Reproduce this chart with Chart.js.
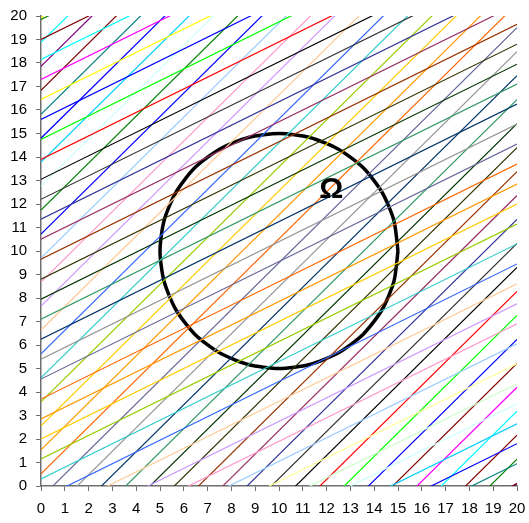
<!DOCTYPE html>
<html>
<head>
<meta charset="utf-8">
<script src="https://cdn.jsdelivr.net/npm/chart.js@4/dist/chart.umd.min.js"></script>
<style>
  html, body { margin: 0; padding: 0; background: #fff; }
  #wrap { width: 529px; height: 523px; }
</style>
</head>
<body>
<div id="wrap"><canvas id="chart"></canvas></div>
<script>
// Shallow family: y = shallowSlope * x + intercept
const shallowSlope = 0.5;
const shallowIntercepts = [-9.9, -9.05, -8.2, -7.35, -6.5, -5.65, -4.8, -3.95, -3.1, -2.25, -1.4, -0.55,
    0.3, 1.15, 2.0, 2.85, 3.7, 4.55, 5.4, 6.25, 7.1, 7.95, 8.8, 9.65, 10.5, 11.35, 12.2,
    13.05, 13.9, 14.75, 15.6, 16.45, 17.3, 18.15, 19.0, 19.85];
const shallowColors = ['#800000', '#008080', '#0000FF', '#00CCFF', '#CCFFFF', '#CCFFCC', '#FFFF99', '#99CCFF',
    '#FF99CC', '#CC99FF', '#FFCC99', '#3366FF', '#33CCCC', '#99CC00', '#FFCC00', '#FF9900', '#FF6600',
    '#666699', '#969696', '#003366', '#339966', '#003300', '#333300', '#993300', '#993366', '#333399',
    '#333333', '#000000', '#FF0000', '#00FF00', '#0000FF', '#FFFF00', '#FF00FF', '#00FFFF', '#800000', '#008000'];

// Steep family: y = steepSlope * x + intercept
const steepSlope = 1.0;
const steepIntercepts = [19.9, 18.88, 17.86, 16.84, 15.82, 14.8, 13.78, 12.76, 11.74, 10.72, 9.7, 8.68,
    7.66, 6.64, 5.62, 4.6, 3.58, 2.56, 1.54, 0.52, -0.5, -1.52, -2.54, -3.56, -4.58, -5.6, -6.62,
    -7.64, -8.66, -9.68, -10.7, -11.72, -12.74, -13.76, -14.78, -15.8, -16.82, -17.84, -18.86, -19.88];
const steepColors = ['#FFFF00', '#00FFFF', '#800080', '#800000', '#008080', '#0000FF', '#00CCFF', '#CCFFFF',
    '#008000', '#0000FF', '#99CCFF', '#FF99CC', '#CC99FF', '#FFCC99', '#3366FF', '#33CCCC', '#99CC00',
    '#FFCC00', '#FF9900', '#FF6600', '#666699', '#969696', '#003366', '#339966', '#003300', '#333300',
    '#993300', '#993366', '#333399', '#333333', '#000000', '#FF0000', '#00FF00', '#0000FF', '#800000',
    '#FF00FF', '#00FFFF', '#800000', '#008000', '#000080'];

// Boundary of the domain
const circleX = [15, 14.83, 14.33, 13.54, 12.5, 11.29, 10, 8.71, 7.5, 6.46, 5.67, 5.17, 5,
    5.17, 5.67, 6.46, 7.5, 8.71, 10, 11.29, 12.5, 13.54, 14.33, 14.83, 15];
const circleY = [10, 11.29, 12.5, 13.54, 14.33, 14.83, 15, 14.83, 14.33, 13.54, 12.5, 11.29, 10,
    8.71, 7.5, 6.46, 5.67, 5.17, 5, 5.17, 5.67, 6.46, 7.5, 8.71, 10];

const omegaLabel = { text: 'Ω', x: 12.2, y: 12.6 };

const xMin = 0, xMax = 20;

function lineDataset(slope, intercept, color) {
    return {
        data: [
            { x: xMin, y: intercept + slope * xMin },
            { x: xMax, y: intercept + slope * xMax }
        ],
        borderColor: color,
        borderWidth: 1.2,
        pointRadius: 0,
        showLine: true,
        fill: false
    };
}

const datasets = [];
shallowIntercepts.forEach(function(c, i) {
    datasets.push(lineDataset(shallowSlope, c, shallowColors[i]));
});
steepIntercepts.forEach(function(c, i) {
    datasets.push(lineDataset(steepSlope, c, steepColors[i]));
});
datasets.push({
    data: circleX.map(function(x, i) { return { x: x, y: circleY[i] }; }),
    borderColor: '#000000',
    borderWidth: 3.5,
    pointRadius: 0,
    showLine: true,
    tension: 0.25,
    fill: false
});

// Draws the omega label inside the plot
const omegaPlugin = {
    id: 'omega',
    afterDatasetsDraw: function(chart) {
        const ctx = chart.ctx;
        const x = chart.scales.x.getPixelForValue(omegaLabel.x);
        const y = chart.scales.y.getPixelForValue(omegaLabel.y);
        ctx.save();
        ctx.fillStyle = '#000';
        ctx.font = 'bold 30px "Liberation Sans", Arial, sans-serif';
        ctx.textAlign = 'center';
        ctx.textBaseline = 'middle';
        ctx.fillText(omegaLabel.text, x, y);
        ctx.restore();
    }
};

const tickFont = { family: '"Liberation Sans", Arial, sans-serif', size: 15 };

new Chart(document.getElementById('chart'), {
    type: 'scatter',
    data: { datasets: datasets },
    plugins: [omegaPlugin],
    options: {
        responsive: true,
        maintainAspectRatio: false,
        animation: false,
        layout: { padding: { top: 16, right: 12, left: 0, bottom: 0 } },
        plugins: { legend: { display: false }, tooltip: { enabled: false } },
        scales: {
            x: {
                type: 'linear', min: xMin, max: xMax,
                ticks: { stepSize: 1, color: '#000', font: tickFont, padding: 9, maxRotation: 0 },
                grid: { drawOnChartArea: false, drawTicks: true, tickLength: 5, color: '#6f6f6f' },
                border: { color: '#6f6f6f', width: 1.5 },
                afterFit: function(scale) {
                    scale.height = 37;
                    scale.paddingLeft = 0;
                    scale.paddingRight = 0;
                }
            },
            y: {
                type: 'linear', min: 0, max: 20,
                ticks: { stepSize: 1, color: '#000', font: tickFont, padding: 9 },
                grid: { drawOnChartArea: false, drawTicks: true, tickLength: 5, color: '#6f6f6f' },
                border: { color: '#6f6f6f', width: 1.5 },
                afterFit: function(scale) {
                    scale.width = 41;
                    scale.paddingTop = 0;
                    scale.paddingBottom = 0;
                }
            }
        }
    }
});
</script>
</body>
</html>
